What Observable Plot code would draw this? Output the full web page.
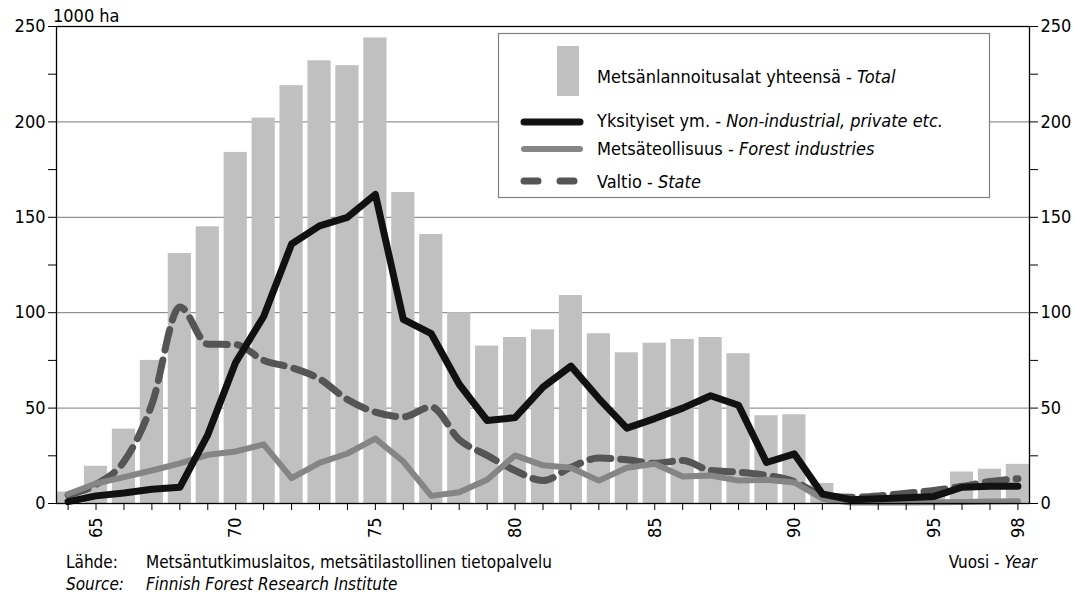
<!DOCTYPE html>
<html><head><meta charset="utf-8">
<script src="https://cdn.jsdelivr.net/npm/d3@7"></script>
<script src="https://cdn.jsdelivr.net/npm/@observablehq/plot@0.6"></script>
<style>
html,body{margin:0;padding:0;background:#fff;}
#wrap{position:relative;width:1074px;height:605px;overflow:hidden;}
#wrap > svg{position:absolute;left:0;top:0;}
</style></head><body><div id="wrap"></div>
<script>
const years = [64,65,66,67,68,69,70,71,72,73,74,75,76,77,78,79,80,81,82,83,84,85,86,87,88,89,90,91,92,93,94,95,96,97,98];
const total = [6,19.5,39,75,131,145,184,202,219,232,229.5,244,163,141,100,82.5,87,91,109,89,79,84,86,87,78.5,46,46.5,10.5,3,4,5.5,7.5,16.5,18,20.5];
const privateEtc = [1,4,5.5,7.5,8.5,36,74,98,136,145.5,150,162,96.5,89,62.5,43.5,45,61,72,55,39.5,44.5,50,56.5,51.5,21.5,26,5,2,2.5,3,3.7,8.5,9,9];
const forestInd = [5,10.5,13.8,17.3,21,25.5,27.3,31,13.3,21.3,26.2,34,22,4,5.9,12.5,25.2,20,18.7,12,18.7,20.8,14.2,14.7,12,12.4,11,2.5,0.5,0.5,0.5,0.6,0.8,1,1.2];
const stateVals = [4.5,10,22,52,103,83.5,83.3,75,71.2,65.3,54.5,47.9,45.4,50.6,33.5,25.2,17.3,12,19,23.8,22.9,21.1,22.5,17.3,16.4,14.7,11.5,4.5,3.3,4,5.4,6.8,9,11.5,13];
const yTicks = [0,25,50,75,100,125,150,175,200,225,250];
const yTickLabels = [0,50,100,150,200,250];
const gridValues = [50,100,150,200];
const xTickLabels = [65,70,75,80,85,90,95,98];

const FONT = '"Liberation Sans Narrow","Arial Narrow","DejaVu Sans Condensed",sans-serif';
const rows = years.map((yr, i) => ({year: yr, total: total[i], priv: privateEtc[i], forest: forestInd[i], state: stateVals[i]}));

const chart = Plot.plot({
  width: 1074, height: 545,
  marginLeft: 56, marginRight: 45, marginTop: 26, marginBottom: 42,
  style: {fontFamily: FONT, fontSize: "18px", color: "#000", background: "transparent"},
  x: {type: "band", domain: years, paddingInner: 0.17, paddingOuter: 0, align: 0.5},
  y: {domain: [0, 250]},
  marks: [
    Plot.ruleY(gridValues, {stroke: "#7a7a7a", strokeWidth: 1}),
    Plot.barY(rows, {x: "year", y: "total", fill: "#c0c0c0"}),
    Plot.lineY(rows, {x: "year", y: "state", stroke: "#555555", strokeWidth: 7, strokeDasharray: "21,10", curve: "monotone-x", strokeLinejoin: "round"}),
    Plot.lineY(rows, {x: "year", y: "forest", stroke: "#858585", strokeWidth: 6, strokeLinejoin: "round"}),
    Plot.lineY(rows, {x: "year", y: "priv", stroke: "#111111", strokeWidth: 7, strokeLinejoin: "round"}),
    Plot.frame({stroke: "#000", strokeWidth: 1.3}),
    Plot.axisY({anchor: "left", ticks: yTicks, tickSize: 8, tickPadding: 3, tickFormat: d => yTickLabels.includes(d) ? String(d) : "", label: null}),
    Plot.axisY({anchor: "right", ticks: yTicks, tickSize: 8, tickPadding: 3, tickFormat: d => yTickLabels.includes(d) ? String(d) : "", label: null}),
    Plot.axisX({ticks: years, tickSize: 7, tickPadding: 7, tickRotate: -90, tickFormat: d => xTickLabels.includes(d) ? String(d) : "", label: null})
  ]
});
const wrap = document.getElementById("wrap");
wrap.appendChild(chart);

// overlay: legend, unit label, captions
const ov = d3.select(wrap).append("svg").attr("width", 1074).attr("height", 605)
  .style("font-family", FONT).style("font-size", "18px");
ov.append("text").attr("x", 53).attr("y", 22).style("font-size", "18px").text("1000 ha");

const lg = ov.append("g");
lg.append("rect").attr("x", 498.5).attr("y", 33.5).attr("width", 491).attr("height", 164).attr("fill", "#fff").attr("stroke", "#808080").attr("stroke-width", 1.2);
lg.append("rect").attr("x", 557).attr("y", 46).attr("width", 22).attr("height", 50).attr("fill", "#c0c0c0");
const sw = [
  {y: 122, stroke: "#111", w: 7, dash: null},
  {y: 149, stroke: "#858585", w: 6, dash: null},
  {y: 181, stroke: "#555", w: 7, dash: "14,22"}
];
sw.forEach(s => {
  const l = lg.append("line").attr("x1", 524).attr("x2", 580).attr("y1", s.y).attr("y2", s.y)
    .attr("stroke", s.stroke).attr("stroke-width", s.w).attr("stroke-linecap", "round");
  if (s.dash) l.attr("stroke-dasharray", s.dash);
});
const legendTexts = [
  {y: 83, a: "Metsänlannoitusalat yhteensä - ", b: "Total"},
  {y: 127, a: "Yksityiset ym. - ", b: "Non-industrial, private etc."},
  {y: 155, a: "Metsäteollisuus - ", b: "Forest industries"},
  {y: 188, a: "Valtio - ", b: "State"}
];
legendTexts.forEach(t => {
  const tx = lg.append("text").attr("x", 597).attr("y", t.y);
  tx.append("tspan").text(t.a);
  tx.append("tspan").style("font-style", "italic").text(t.b);
});

const cap = ov.append("g").style("font-size", "17px");
cap.append("text").attr("x", 66).attr("y", 568).text("Lähde:");
cap.append("text").attr("x", 146).attr("y", 568).text("Metsäntutkimuslaitos, metsätilastollinen tietopalvelu");
cap.append("text").attr("x", 66).attr("y", 590).style("font-style", "italic").text("Source:");
cap.append("text").attr("x", 146).attr("y", 590).style("font-style", "italic").text("Finnish Forest Research Institute");
const vy = cap.append("text").attr("x", 1037).attr("y", 568).attr("text-anchor", "end");
vy.append("tspan").text("Vuosi - ");
vy.append("tspan").style("font-style", "italic").text("Year");
</script>
</body></html>
